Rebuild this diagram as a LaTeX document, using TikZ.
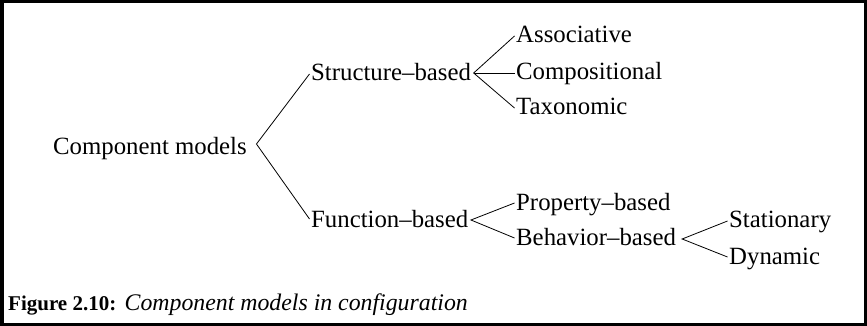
\documentclass[tikz,border=0pt]{standalone}
\usepackage{fontspec}
\setmainfont{Liberation Serif}
\begin{document}
\begin{tikzpicture}[x=1pt,y=-1pt,
  lbl/.style={anchor=base west, inner xsep=1.5pt, inner ysep=0pt,
              font=\fontsize{24.8}{29}\selectfont},
  capt/.style={anchor=base west, inner sep=0pt,
              font=\fontsize{21}{24}\selectfont},
  link/.style={line width=0.8pt},
  frame/.style={line width=3.5pt}]
\useasboundingbox (0,0) rectangle (867,326);
\draw[frame] (1.75,1.75) rectangle (865.25,324.25);

% tree labels
\node[lbl] (cm) at (51.5,154) {Component models};
\node[lbl] (sb) at (309.5,81) {Structure–based};
\node[lbl] (fb) at (309.5,227) {Function–based};
\node[lbl] (as) at (514.5,43) {Associative};
\node[lbl] (co) at (514.5,80) {Compositional};
\node[lbl] (ta) at (514.5,115) {Taxonomic};
\node[lbl] (pr) at (514.5,210) {Property–based};
\node[lbl] (be) at (514.5,245) {Behavior–based};
\node[lbl] (st) at (727.5,227) {Stationary};
\node[lbl] (dy) at (727.5,264) {Dynamic};

% branches
\draw[link] ([yshift=7pt]sb.base west) -- ([xshift=8pt,yshift=10pt]cm.base east)
            -- ([yshift=8pt]fb.base west);
\draw[link] ([yshift=7pt]as.base west) -- ([xshift=1pt,yshift=8pt]sb.base east)
            -- ([yshift=7pt]ta.base west);
\draw[link] ([xshift=1pt,yshift=8pt]sb.base east) -- ([yshift=7pt]co.base west);
\draw[link] ([yshift=7pt]pr.base west) -- ([xshift=1pt,yshift=7pt]fb.base east)
            -- ([yshift=7pt]be.base west);
\draw[link] ([yshift=6pt]st.base west) -- ([xshift=4.5pt,yshift=6pt]be.base east)
            -- ([yshift=7pt]dy.base west);

% caption
\node[capt] (cap) at (8,310) {\textbf{Figure 2.10:}\hspace{0.4em}{\fontsize{23.8}{26}\selectfont\itshape Component models in configuration}};
\end{tikzpicture}
\end{document}
